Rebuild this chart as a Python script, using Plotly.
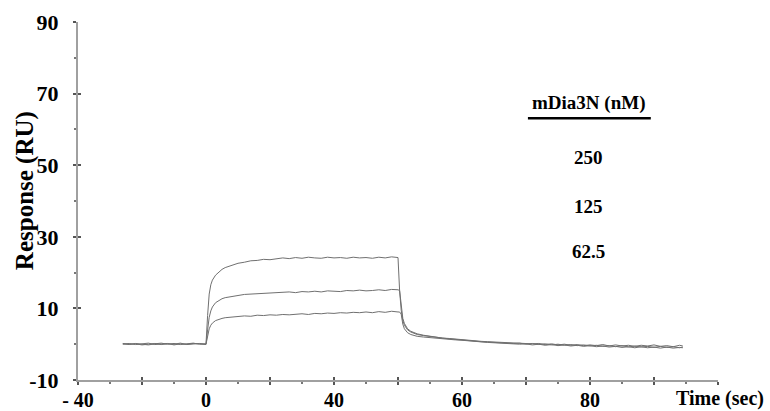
import plotly.graph_objects as go

# ---------------- data ----------------
time_s = [-26, -24, -22, -20, -18, -16, -14, -12, -10, -8, -6, -4, -2, 0,
          0.5, 1, 1.5, 2, 3, 4, 5, 6,
          8, 10, 12, 14, 16, 18, 20, 22, 24, 26, 28, 30, 32, 34, 36, 38, 40,
          42, 44, 46, 48, 50, 52, 54, 56, 58, 60,
          60.5, 61, 61.5, 62, 63, 64, 65, 66,
          68, 70, 72, 74, 76, 78, 80, 82, 84, 86, 88, 90, 92, 94, 96, 98, 100,
          102, 104, 106, 108, 110, 112, 114, 116, 118, 120, 122, 124, 126, 128,
          130, 132, 134, 136, 138, 140, 142, 144, 146, 148, 149]

resp_250 = [0.1, -0.1, 0.2, 0.0, -0.2, 0.1, 0.3, 0.0, 0.2, -0.1, 0.1, 0.3, 0.0, 0.1,
            8.0, 14.0, 16.6, 17.9, 19.3, 20.2, 20.9, 21.4,
            22.0, 22.6, 22.9, 23.3, 23.4, 23.7, 23.6, 23.9, 24.1, 23.9, 24.2, 24.0, 24.3, 24.1, 24.0, 24.3, 24.1,
            24.2, 24.0, 24.3, 24.1, 24.2, 24.0, 24.3, 24.1, 24.4, 24.2,
            15.0, 10.0, 7.2, 5.8, 4.3, 3.6, 3.2, 2.9,
            2.5, 2.2, 2.0, 1.7, 1.6, 1.4, 1.3, 1.1, 1.0, 0.8, 0.7, 0.6, 0.5, 0.4, 0.5, 0.2, 0.3,
            0.1, 0.2, -0.1, 0.1, -0.2, 0.0, -0.3, -0.1, -0.4, -0.2, -0.4, -0.1, -0.5, -0.2,
            -0.5, -0.3, -0.6, -0.3, -0.5, -0.2, -0.6, -0.4, -0.7, -0.3, -0.5]

resp_125 = [0.0, 0.2, -0.1, 0.1, 0.3, -0.1, 0.0, 0.2, -0.2, 0.1, 0.0, 0.2, 0.1, -0.1,
            4.0, 7.5, 9.3, 10.4, 11.6, 12.2, 12.7, 13.0,
            13.4, 13.6, 13.9, 14.0, 14.2, 14.1, 14.4, 14.3, 14.5, 14.6, 14.4, 14.7, 14.6, 14.8, 14.6, 14.9, 14.8,
            14.7, 15.0, 14.9, 15.1, 14.9, 15.0, 15.2, 15.0, 15.3, 15.2,
            15.0, 9.5, 6.6, 5.3, 4.0, 3.4, 3.0, 2.7,
            2.4, 2.1, 1.9, 1.7, 1.5, 1.3, 1.2, 1.0, 0.9, 0.7, 0.6, 0.5, 0.3, 0.4, 0.2, 0.3, 0.0,
            0.2, -0.1, 0.1, -0.2, 0.0, -0.3, -0.1, -0.4, -0.2, -0.5, -0.3, -0.6, -0.4, -0.7,
            -0.4, -0.8, -0.5, -0.8, -0.6, -0.9, -0.6, -0.9, -0.7, -1.0, -0.8]

resp_62_5 = [0.2, 0.0, 0.1, -0.2, 0.0, 0.2, -0.1, 0.1, 0.0, 0.3, -0.1, 0.0, 0.2, 0.0,
             2.5, 4.3, 5.3, 5.9, 6.6, 7.0, 7.2, 7.4,
             7.6, 7.8, 7.9, 7.8, 8.1, 8.0, 8.2, 8.1, 8.3, 8.2, 8.4, 8.5, 8.3, 8.6, 8.5, 8.7, 8.6,
             8.8, 8.7, 8.9, 8.8, 9.0, 8.8, 9.1, 8.9, 9.2, 9.0,
             9.0, 8.4, 5.6, 4.3, 3.2, 2.7, 2.4, 2.2,
             2.0, 1.8, 1.7, 1.5, 1.4, 1.2, 1.1, 0.9, 0.8, 0.7, 0.5, 0.4, 0.3, 0.1, 0.2, 0.0, 0.1,
             -0.2, 0.0, -0.3, -0.1, -0.4, -0.2, -0.5, -0.3, -0.6, -0.4, -0.7, -0.5, -0.8, -0.6,
             -0.9, -0.7, -1.0, -0.7, -1.0, -0.8, -1.1, -0.8, -1.1, -0.9, -1.0]

series = [("250", resp_250), ("125", resp_125), ("62.5", resp_62_5)]
legend_title = "mDia3N (nM)"

x_tickvals = [-40, -20, 0, 20, 40, 60, 80, 100, 120, 140, 160]
x_ticktext = ["- 40", "", "0", "", "40", "", "60", "", "80", "", ""]
y_tickvals = [-10, 10, 30, 50, 70, 90]
y_ticktext = ["-10", "10", "30", "50", "70", "90"]

# ---------------- figure ----------------
FONT = "Liberation Serif"
fig = go.Figure()
for name, vals in series:
    fig.add_trace(go.Scatter(x=time_s, y=vals, mode="lines", name=name,
                             line=dict(color="#707070", width=1), showlegend=False))
# invisible trace on the overlay axes so they render
fig.add_trace(go.Scatter(x=[None], y=[None], xaxis="x2", yaxis="y2", showlegend=False))

axis_common = dict(showgrid=False, zeroline=False, automargin=False)
fig.update_layout(
    width=770, height=411,
    margin=dict(l=78, r=52, t=22, b=31, autoexpand=False),
    paper_bgcolor="white", plot_bgcolor="white",
    font=dict(family=FONT, color="black"),
    xaxis=dict(range=[-40, 160], tickmode="array", tickvals=x_tickvals, ticktext=x_ticktext,
               ticks="outside", ticklen=3, tickwidth=1.5, tickcolor="#555555",
               showline=True, linecolor="#a0a0a0", linewidth=2,
               tickfont=dict(family=FONT, size=20, weight="bold"),
               ticklabelstandoff=-2,
               minor=dict(dtick=10, tick0=0, ticks="outside", ticklen=2, tickcolor="#777777"),
               **axis_common),
    yaxis=dict(range=[-10, 90], tickmode="array", tickvals=y_tickvals, ticktext=y_ticktext,
               ticks="outside", ticklen=3, tickwidth=1.5, tickcolor="#555555",
               showline=True, linecolor="#a0a0a0", linewidth=2,
               tickfont=dict(family=FONT, size=22, weight="bold"),
               ticklabelstandoff=10,
               minor=dict(dtick=10, tick0=0, ticks="outside", ticklen=2, tickcolor="#777777"),
               **axis_common),
    xaxis2=dict(overlaying="x", matches="x", anchor="y", range=[-40, 160], tickmode="array",
                tickvals=x_tickvals, ticks="inside", ticklen=3, tickwidth=1.5,
                tickcolor="#555555", showticklabels=False, showline=False, **axis_common),
    yaxis2=dict(overlaying="y", matches="y", anchor="x", range=[-10, 90], tickmode="array",
                tickvals=y_tickvals, ticks="inside", ticklen=3, tickwidth=1.5,
                tickcolor="#555555", showticklabels=False, showline=False, **axis_common),
)

# y-axis title
fig.add_annotation(text="Response (RU)", xref="paper", yref="paper", x=-0.083, y=0.53,
                   xanchor="center", yanchor="middle", textangle=-90, showarrow=False,
                   font=dict(family=FONT, size=25, weight="bold"))

# x-axis title at the right end
fig.add_annotation(text="Time (sec)", xref="paper", yref="paper", x=0.932, y=-0.052,
                   xanchor="left", yanchor="middle", showarrow=False,
                   font=dict(family=FONT, size=20, weight="bold"))

# legend as plain text
fig.add_annotation(text=legend_title, xref="paper", yref="paper", x=0.798, y=0.773,
                   xanchor="center", yanchor="middle", showarrow=False,
                   font=dict(family=FONT, size=19, weight="bold"))
fig.add_shape(type="line", xref="paper", yref="paper", x0=0.703, x1=0.895, y0=0.731, y1=0.731,
              line=dict(color="black", width=2.5))
legend_y = [0.622, 0.486, 0.36]
for (name, _), yy in zip(series, legend_y):
    fig.add_annotation(text=name, xref="paper", yref="paper", x=0.797, y=yy,
                       xanchor="center", yanchor="middle", showarrow=False,
                       font=dict(family=FONT, size=19, weight="bold"))

fig.write_html("out.html", config={"displayModeBar": False},
               post_script="document.body.style.margin='0';document.body.style.overflow='hidden';")
